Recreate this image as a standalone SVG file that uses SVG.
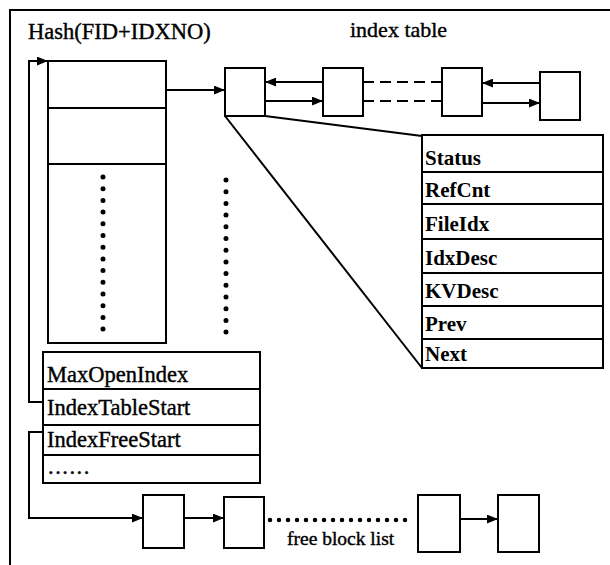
<svg xmlns="http://www.w3.org/2000/svg" width="610" height="565" viewBox="0 0 610 565">
  <style>
    .box { fill: #fff; stroke: #000; stroke-width: 2; }
    .ln { fill: none; stroke: #000; stroke-width: 2; }
    .arr { fill: none; stroke: #000; stroke-width: 2; marker-end: url(#ah); }
    .dash { fill: none; stroke: #000; stroke-width: 2; stroke-dasharray: 11 6; }
    .dots { fill: none; stroke: #000; stroke-width: 4.5; stroke-linecap: round; stroke-dasharray: 0 9; }
    .vdots { fill: none; stroke: #000; stroke-width: 5; stroke-linecap: round; stroke-dasharray: 0 11.7; }
    .t { font-family: "Liberation Serif", "DejaVu Serif", "Times New Roman", serif; font-size: 22.5px; fill: #000; stroke: #000; stroke-width: 0.4; }
    .tb { font-family: "Liberation Serif", "DejaVu Serif", "Times New Roman", serif; font-size: 21px; font-weight: bold; fill: #000; }
  </style>
  <defs>
    <marker id="ah" viewBox="0 0 10 8" refX="10" refY="4" markerWidth="11" markerHeight="9" markerUnits="userSpaceOnUse" orient="auto">
      <path d="M0,0 L10,4 L0,8 Z" fill="#000"/>
    </marker>
  </defs>

  <rect width="610" height="565" fill="#fff"/>

  <!-- frame -->
  <path class="ln" d="M10,565 V10 H610"/>

  <text class="t" x="28" y="39">Hash(FID+IDXNO)</text>
  <text class="t" x="350" y="37" style="font-size:22px">index table</text>

  <!-- hash bucket column -->
  <g id="hash-table">
    <rect class="box" x="48" y="61" width="118" height="282"/>
    <line class="ln" x1="48" y1="108" x2="166" y2="108"/>
    <line class="ln" x1="48" y1="164" x2="166" y2="164"/>
    <line class="vdots" x1="103" y1="177" x2="103" y2="330"/>
  </g>
  <line class="vdots" x1="226" y1="180" x2="226" y2="333"/>

  <!-- control block -->
  <g id="control-block">
    <rect class="box" x="43" y="352" width="217" height="131"/>
    <line class="ln" x1="43" y1="389" x2="260" y2="389"/>
    <line class="ln" x1="43" y1="425" x2="260" y2="425"/>
    <line class="ln" x1="43" y1="455" x2="260" y2="455"/>
    <text class="t" x="47" y="382">MaxOpenIndex</text>
    <text class="t" x="47" y="415">IndexTableStart</text>
    <text class="t" x="47" y="447">IndexFreeStart</text>
    <text class="t" x="48" y="474" style="letter-spacing:1.5px">......</text>
  </g>

  <!-- index table nodes -->
  <g id="idx1"><rect class="box" x="225" y="68" width="40" height="48"/></g>
  <g id="idx2"><rect class="box" x="323" y="68" width="40" height="48"/></g>
  <g id="idx3"><rect class="box" x="442" y="68" width="40" height="48"/></g>
  <g id="idx4"><rect class="box" x="540" y="72" width="40" height="48"/></g>

  <!-- index entry fields -->
  <g id="index-entry">
    <rect class="box" x="422" y="135" width="181" height="233"/>
    <line class="ln" x1="422" y1="172" x2="603" y2="172"/>
    <line class="ln" x1="422" y1="204" x2="603" y2="204"/>
    <line class="ln" x1="422" y1="239" x2="603" y2="239"/>
    <line class="ln" x1="422" y1="273" x2="603" y2="273"/>
    <line class="ln" x1="422" y1="306" x2="603" y2="306"/>
    <line class="ln" x1="422" y1="339" x2="603" y2="339"/>
    <text class="tb" x="425" y="165">Status</text>
    <text class="tb" x="425" y="197">RefCnt</text>
    <text class="tb" x="425" y="231">FileIdx</text>
    <text class="tb" x="425" y="265">IdxDesc</text>
    <text class="tb" x="425" y="298">KVDesc</text>
    <text class="tb" x="425" y="331">Prev</text>
    <text class="tb" x="425" y="361">Next</text>
  </g>

  <!-- free block nodes -->
  <g id="free1"><rect class="box" x="143" y="495" width="41" height="53"/></g>
  <g id="free2"><rect class="box" x="224" y="497" width="40" height="51"/></g>
  <g id="free3"><rect class="box" x="418" y="495" width="42" height="57"/></g>
  <g id="free4"><rect class="box" x="498" y="495" width="41" height="57"/></g>
  <text class="t" x="287" y="545" style="font-size:19.5px">free block list</text>

  <g id="connectors">
    <!-- IndexTableStart -> hash column -->
    <path class="arr" d="M43,402 H29 V61 H48"/>
    <!-- bucket -> first index node -->
    <path class="arr" d="M166,90 H225"/>
    <!-- doubly linked index list -->
    <path class="arr" d="M323,82 H265"/>
    <path class="arr" d="M265,101 H323"/>
    <path class="dash" d="M363,82 H442"/>
    <path class="dash" d="M363,101 H442"/>
    <path class="arr" d="M540,83 H482"/>
    <path class="arr" d="M482,103 H540"/>
    <!-- detail fan -->
    <path class="ln" d="M265,116 L422,136"/>
    <path class="ln" d="M225,116 L422,368"/>
    <!-- IndexFreeStart -> free list -->
    <path class="arr" d="M43,432 H29 V518 H143"/>
    <path class="arr" d="M184,518 H224"/>
    <line class="dots" x1="270" y1="520" x2="414" y2="520"/>
    <path class="arr" d="M460,519 H498"/>
  </g>
</svg>
